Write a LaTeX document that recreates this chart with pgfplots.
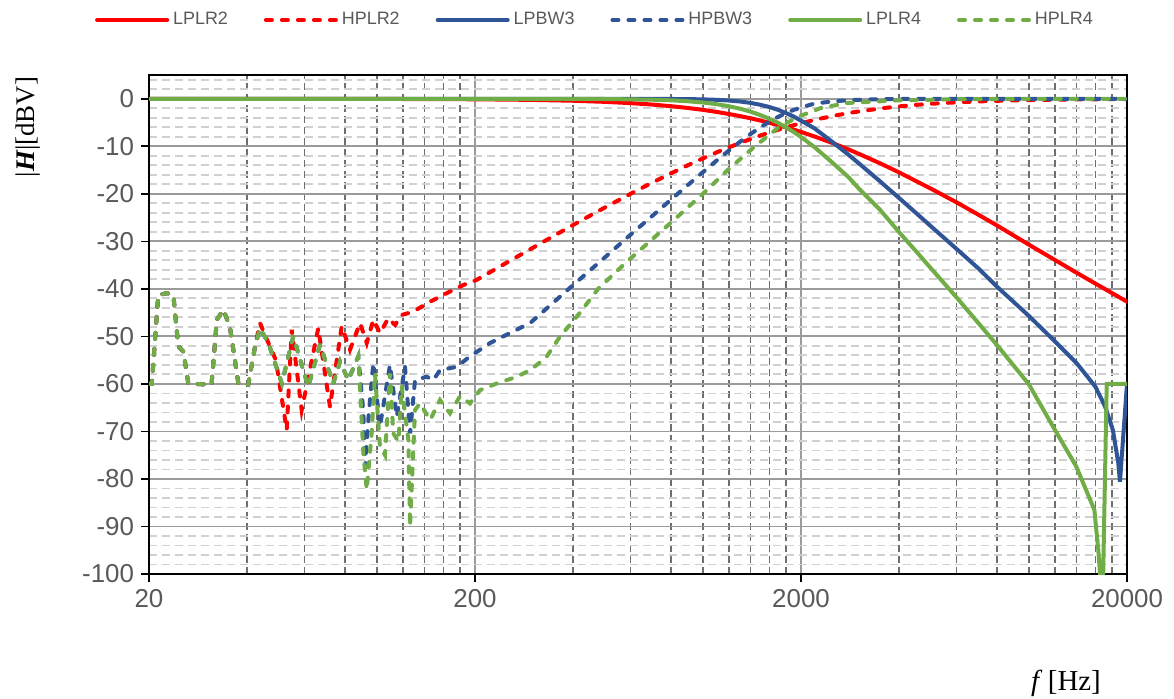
\documentclass[border=0pt]{standalone}
\usepackage{fontspec}
\setmainfont{Liberation Sans}
\newfontfamily\seriffont{Liberation Serif}
\usepackage{pgfplots}
\pgfplotsset{compat=1.18}
\usepackage{pgfplotstable}

\definecolor{cRed}{RGB}{255,0,0}
\definecolor{cBlue}{RGB}{47,85,151}
\definecolor{cGreen}{RGB}{112,173,71}
\definecolor{txt}{RGB}{89,89,89}
\definecolor{majgrid}{RGB}{155,155,155}
\definecolor{minygrid}{RGB}{208,208,208}
\definecolor{minxgrid}{RGB}{110,110,110}

\pgfplotstableread{
f db
20 0
100 -0.03
200 -0.11
300 -0.24
400 -0.42
500 -0.65
600 -0.92
700 -1.22
800 -1.57
900 -1.94
1000 -2.34
1100 -2.76
1200 -3.2
1300 -3.65
1400 -4.11
1500 -4.58
1600 -5.06
1700 -5.54
1800 -6.02
1900 -6.5
2000 -6.98
2200 -7.94
2500 -9.33
2800 -10.68
3000 -11.55
3500 -13.6
4000 -15.5
4500 -17.3
5000 -18.9
6000 -21.8
7000 -24.4
8000 -26.7
10000 -30.7
12000 -33.9
14000 -36.6
16000 -38.9
18000 -40.9
20000 -42.7
}\tabLPLRa

\pgfplotstableread{
f db
20 -60
20.4 -60
21.35 -41.3
22.7 -40.9
23.75 -41.3
24.6 -52.1
25.5 -53.2
26.4 -59.9
31.1 -60.2
32.3 -46.5
33.8 -44.4
35.4 -47.9
37.6 -59.9
40.3 -60.2
42.3 -52.1
43.8 -47.2
46.5 -51.4
49.0 -55
52.9 -69.7
54.8 -48.6
58.8 -65.5
66.1 -48.3
71.8 -64.8
78.0 -47.9
82.7 -52.8
88.8 -47.2
93.1 -51.4
97.5 -46.5
102.2 -49.3
108.4 -46.2
113.7 -47.6
119.2 -45.5
129.3 -44.8
145.6 -42.7
163.8 -40.9
184.2 -39.2
202.4 -38.1
250 -34.5
300 -31.4
400 -26.55
500 -22.9
600 -20.0
700 -17.63
800 -15.66
900 -13.98
1000 -12.55
1100 -11.31
1200 -10.24
1300 -9.3
1400 -8.48
1500 -7.75
1600 -7.11
1700 -6.53
1800 -6.02
1900 -5.56
2000 -5.15
2200 -4.45
2500 -3.63
2800 -3.0
3000 -2.68
3500 -2.04
4000 -1.6
4500 -1.29
5000 -1.06
6000 -0.74
7000 -0.56
8000 -0.43
10000 -0.27
14000 -0.15
20000 -0.07
}\tabHPLRa

\pgfplotstableread{
f db
20 0
200 0
500 0
700 -0.02
900 -0.07
1000 -0.13
1100 -0.22
1200 -0.37
1300 -0.58
1400 -0.87
1500 -1.27
1600 -1.74
1700 -2.33
1800 -3.01
1900 -3.75
2000 -4.6
2200 -6.23
2500 -9.13
2800 -11.81
3000 -13.51
3500 -17.41
4000 -20.9
4500 -24.0
5000 -26.8
6000 -31.6
7000 -35.7
8000 -39.6
10000 -45.7
12000 -51.0
14000 -55.6
16000 -60.6
17140 -64.8
18100 -69.7
18810 -76.7
19030 -80.6
20000 -60
}\tabLPBW

\pgfplotstableread{
f db
20 -60
20.4 -60
21.35 -41.3
22.7 -40.9
23.75 -41.3
24.6 -52.1
25.5 -53.2
26.4 -59.9
31.1 -60.2
32.3 -46.5
33.8 -44.4
35.4 -47.9
37.6 -59.9
40.3 -60.2
42.3 -52.1
43.8 -48.3
46.5 -51.4
51.1 -59.9
55.4 -50
61.6 -60.6
66.9 -51.8
73.5 -59.9
77.1 -55.3
81.7 -59.2
87.7 -54.2
90.9 -66
92.0 -77.4
94.5 -66
97.5 -55.6
102.2 -69
109.7 -56
115.1 -66.9
122.0 -56.4
126.4 -70.4
130.9 -59.2
142.2 -58.5
149.0 -59.2
156.2 -57.1
175.8 -56.4
193.1 -54.2
222.4 -51.4
256.2 -49.3
295.1 -47.2
400 -39.2
500 -33.4
600 -28.6
700 -24.63
800 -21.16
900 -18.13
1000 -15.45
1100 -13.05
1200 -10.93
1300 -9.05
1400 -7.42
1500 -6.02
1600 -4.81
1700 -3.82
1800 -3.01
1900 -2.34
2000 -1.85
2200 -1.0
2500 -0.57
2800 -0.3
3500 -0.08
5000 0
20000 0
}\tabHPBW

\pgfplotstableread{
f db
20 0
200 0
500 -0.05
700 -0.2
800 -0.33
900 -0.53
1000 -0.79
1100 -1.13
1200 -1.57
1300 -2.09
1400 -2.71
1500 -3.42
1600 -4.21
1700 -5.07
1800 -6.02
1900 -7.0
2000 -8.04
2200 -10.19
2500 -13.48
2800 -16.53
3000 -18.81
3500 -23.42
4000 -28.09
4500 -32.05
5000 -35.64
6000 -41.8
7000 -47.2
8000 -51.9
10000 -60.1
11860 -69
13980 -77.4
15880 -86.5
16330 -95
16530 -100
16900 -100
17330 -60
20000 -60
}\tabLPLRb

\pgfplotstableread{
f db
20 -60
20.4 -60
21.35 -41.3
22.7 -40.9
23.75 -41.3
24.6 -52.1
25.5 -53.2
26.4 -59.9
31.1 -60.2
32.3 -46.5
33.8 -44.4
35.4 -47.9
37.6 -59.9
40.3 -60.2
42.3 -52.1
43.8 -48.3
46.5 -51.4
51.1 -59.9
55.4 -50
61.6 -60.6
66.9 -51.8
73.5 -59.9
77.1 -55.3
81.7 -59.2
87.7 -54.2
90.9 -74.6
93.1 -82.3
96.4 -70.4
98.7 -57.8
102.2 -73.2
105.9 -75
109.7 -57.8
112.3 -70.4
116.4 -72.1
119.2 -60.6
124.9 -71.8
126.4 -90
130.9 -65.5
135.6 -64.1
145.6 -67.6
156.2 -63.4
167.6 -66.2
179.9 -62.6
193.1 -64.1
207.2 -61.3
233.3 -59.9
268.6 -58.5
295.1 -57.1
330 -54.5
365 -50
420 -45
477 -40
580 -34.5
688 -30
800 -26
1000 -20
1200 -14.8
1445 -10
1724 -5.8
1976 -3.7
2288 -2.0
2761 -0.9
3934 -0.35
6000 -0.1
10000 0
20000 0
}\tabHPLRb

\begin{document}
\begin{tikzpicture}
\begin{axis}[
  scale only axis,
  width=489bp, height=249.5bp,
  xmode=log, xmin=20, xmax=20000, ymin=-100, ymax=5,
  xtick={20,200,2000,20000},
  xticklabels={20,200,2000,20000},
  minor xtick={40,60,80,100,120,140,160,180,400,600,800,1000,1200,1400,1600,1800,4000,6000,8000,10000,12000,14000,16000,18000},
  ytick={-100,-90,-80,-70,-60,-50,-40,-30,-20,-10,0},
  yticklabels={-100,-90,-80,-70,-60,-50,-40,-30,-20,-10,0},
  minor ytick={-98,-96,-94,-92,-88,-86,-84,-82,-78,-76,-74,-72,-68,-66,-64,-62,-58,-56,-54,-52,-48,-46,-44,-42,-38,-36,-34,-32,-28,-26,-24,-22,-18,-16,-14,-12,-8,-6,-4,-2,2,4},
  grid=both,
  major grid style={majgrid, line width=0.9bp},
  minor x grid style={minxgrid, line width=0.9bp, dash pattern=on 3.5bp off 2bp},
  minor y grid style={minygrid, line width=0.9bp, dash pattern=on 4bp off 2.5bp},
  tick pos=left,
  tick align=outside,
  major tick length=4bp,
  minor tick length=0pt,
  tick style={black, line width=0.8bp},
  axis line style={black, line width=1bp},
  ticklabel style={font=\fontsize{13}{15}\selectfont, text=txt},
  ylabel={{\seriffont |{\bfseries\itshape H}|[dBV]}},
  ylabel style={at={(axis description cs:-0.1237,0.896)}, anchor=center, font=\fontsize{13.5}{15}\selectfont},
  xlabel={{\seriffont\itshape f}\hspace{0.3em}{\seriffont [Hz]}},
  xlabel style={at={(axis description cs:0.9376,-0.2184)}, anchor=center, font=\fontsize{14.5}{16}\selectfont},
  legend columns=6,
  legend style={at={(axis description cs:0.457,1.110)}, anchor=center, draw=none, fill=none,
    font=\fontsize{9}{11}\selectfont, text=txt,
    /tikz/every even column/.append style={column sep=16bp}},
  legend image code/.code={\draw[#1] (0bp,0bp) -- (35bp,0bp);},
]
\addplot[cRed, line width=2bp, line cap=round] table[x=f,y=db] {\tabLPLRa};
\addlegendentry{LPLR2}
\addplot[cRed, line width=2bp, line cap=round, dash pattern=on 3bp off 5bp] table[x=f,y=db] {\tabHPLRa};
\addlegendentry{HPLR2}
\addplot[cBlue, line width=2bp, line cap=round] table[x=f,y=db] {\tabLPBW};
\addlegendentry{LPBW3}
\addplot[cBlue, line width=2bp, line cap=round, dash pattern=on 3bp off 5bp] table[x=f,y=db] {\tabHPBW};
\addlegendentry{HPBW3}
\addplot[cGreen, line width=2bp, line cap=round] table[x=f,y=db] {\tabLPLRb};
\addlegendentry{LPLR4}
\addplot[cGreen, line width=2bp, line cap=round, dash pattern=on 3bp off 5bp] table[x=f,y=db] {\tabHPLRb};
\addlegendentry{HPLR4}
\end{axis}
\pgfresetboundingbox
\path[use as bounding box] ([xshift=-74.5bp,yshift=-62.5bp]current axis.south west) rectangle ([xshift=23.5bp,yshift=37.5bp]current axis.north east);
\end{tikzpicture}
\end{document}
